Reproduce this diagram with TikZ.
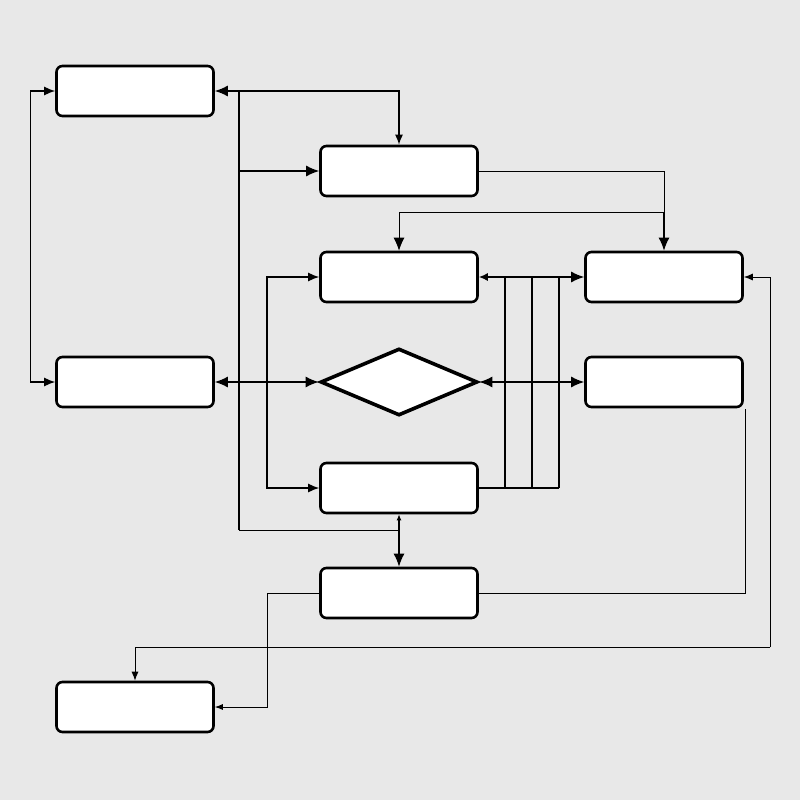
\documentclass[tikz,border=0pt]{standalone}
\usetikzlibrary{arrows.meta,shapes.geometric}
\begin{document}
\begin{tikzpicture}[x=1pt,y=-1pt,
 box/.style={draw,line width=2.6pt,fill=white,rounded corners=6pt,minimum width=157pt,minimum height=50pt,inner sep=0pt},
 dia/.style={draw,line width=3.6pt,fill=white,diamond,aspect=2.3,minimum width=157pt,minimum height=67pt,inner sep=0pt},
 tip/.style={-{Latex[length=13pt,width=11pt]}},
 con/.style={line width=1.4pt,tip},
 thin/.style={line width=0.9pt},
 ln/.style={line width=1.4pt}]
\fill[black!9] (0,0) rectangle (800,800);
\useasboundingbox (0,0) rectangle (800,800);
\node[box] (A) at (135,91) {};
\node[box] (B) at (399,171) {};
\node[box] (C) at (399,277) {};
\node[box] (D) at (664,277) {};
\node[box] (E) at (135,382) {};
\node[dia] (X) at (399,382) {};
\node[box] (F) at (664,382) {};
\node[box] (G) at (399,488) {};
\node[box] (H) at (399,593) {};
\node[box] (I) at (135,707) {};
\coordinate (t1) at (239,91);
\coordinate (t2) at (239,171);
\coordinate (t3) at (239,530);
\coordinate (t4) at (399,530);
\draw[con] (t1) -- (A.east);
\draw[con,-{Latex[length=10pt,width=8pt]}] (t1) -| (B.north);
\draw[con] (t2) -- (B.west);
\draw[ln] (t1) -- (t3);
\draw[thin] (t3) -- (t4);
\draw[con] (t4) -- (H.north);
\draw[con,-{Latex[length=6pt,width=5pt]}] (t4) -- (G.south);
\draw[ln,{Latex[length=11pt,width=9pt]}-{Latex[length=11pt,width=9pt]}] (A.west) -- ++(-25,0) |- (E.west);
\draw[thin] (B.east) -| (664,240);
\draw[con] (664,212) -- (D.north);
\coordinate (c1) at (664,212);
\draw[con,line width=0.9pt] (c1) -| (C.north);
\draw[ln,{Latex[length=11pt,width=9pt]}-{Latex[length=11pt,width=9pt]}] (C.west) -| (267,488) -- (G.west);
\draw[con] (239,382) -- (E.east);
\draw[con] (239,382) -- (X.west);
\draw[con] (532,382) -- (X.east);
\draw[con] (532,382) -- (F.west);
\draw[con,-{Latex[length=9pt,width=8pt]}] (532,277) -- (C.east);
\draw[con] (532,277) -- (D.west);
\draw[ln] (G.east) -- (559,488);
\foreach \x in {505,532,559} \draw[ln] (\x,277) -- (\x,488);
\draw[thin] (H.east) -| (745,409);
\draw[thin,-{Latex[length=8pt,width=6pt]}] (H.west) -| (267,707) -- (I.east);
\coordinate (d1) at (770,647);
\draw[thin,-{Latex[length=9pt,width=7pt]}] (d1) |- (D.east);
\draw[thin,-{Latex[length=9pt,width=7pt]}] (d1) -| (I.north);
\end{tikzpicture}
\end{document}
